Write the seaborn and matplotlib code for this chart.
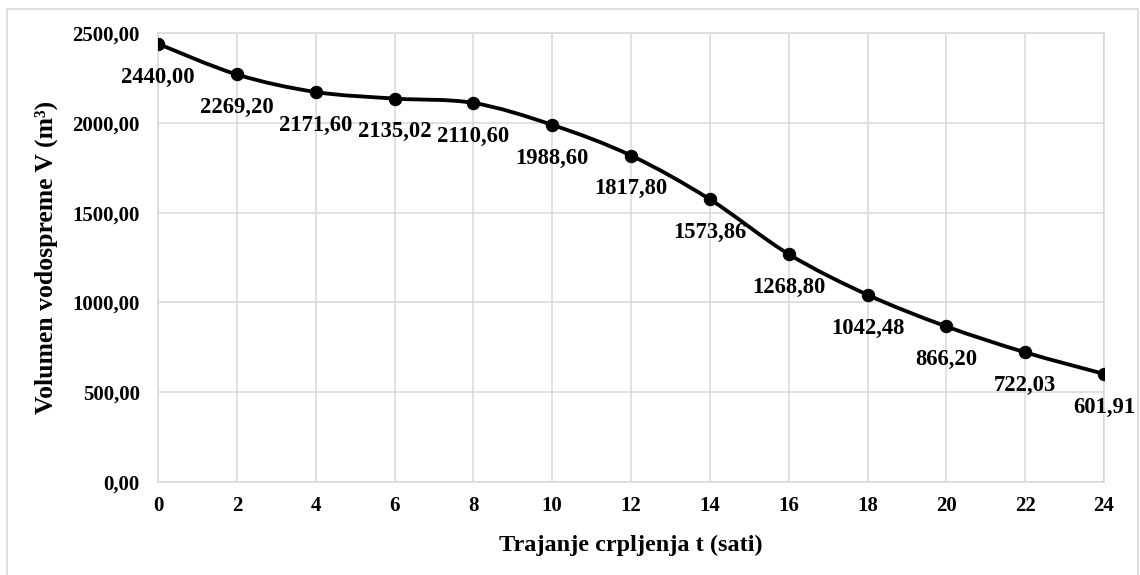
import numpy as np
import pandas as pd
import matplotlib
matplotlib.use("Agg")
import matplotlib.pyplot as plt
import seaborn as sns
from matplotlib.path import Path
from matplotlib.patches import PathPatch, Rectangle

# Data
hours = [0, 2, 4, 6, 8, 10, 12, 14, 16, 18, 20, 22, 24]
volume = [2440.00, 2269.20, 2171.60, 2135.02, 2110.60, 1988.60, 1817.80,
          1573.86, 1268.80, 1042.48, 866.20, 722.03, 601.91]
x_ticks = list(range(0, 25, 2))
y_ticks = [0, 500, 1000, 1500, 2000, 2500]

sns.set_theme(style="white")
plt.rcParams['font.family'] = ['Liberation Serif', 'DejaVu Serif']
plt.rcParams['font.weight'] = 'bold'

df = pd.DataFrame({"t": hours, "V": volume})

fig = plt.figure(figsize=(11.4, 5.75), dpi=100)
ax = fig.add_axes([158/1140, 93/575, (1104-158)/1140, (542-93)/575])

# Smoothed line (Excel-like Catmull-Rom Bezier) built from the data
xs = np.array(hours, dtype=float)
ys = np.array(volume, dtype=float)
verts = [(xs[0], ys[0])]
codes = [Path.MOVETO]
n = len(xs)
for i in range(n - 1):
    p0 = np.array([xs[max(i-1, 0)], ys[max(i-1, 0)]])
    p1 = np.array([xs[i], ys[i]])
    p2 = np.array([xs[i+1], ys[i+1]])
    p3 = np.array([xs[min(i+2, n-1)], ys[min(i+2, n-1)]])
    c1 = p1 + (p2 - p0) / 6.0
    c2 = p2 - (p3 - p1) / 6.0
    verts += [tuple(c1), tuple(c2), tuple(p2)]
    codes += [Path.CURVE4, Path.CURVE4, Path.CURVE4]
ax.add_patch(PathPatch(Path(verts, codes), facecolor='none', edgecolor='black',
                       lw=2.75, zorder=3, capstyle='round', joinstyle='round'))

sns.scatterplot(data=df, x="t", y="V", ax=ax, color="black", s=80,
                edgecolor="black", zorder=4, legend=False)

for t, v in zip(hours, volume):
    ax.annotate(f"{v:.2f}".replace('.', ','), (t, v), xytext=(0, -24),
                textcoords='offset points', ha='center', va='center',
                fontsize=16.3, fontweight='bold', color='black', zorder=5)

ax.set_xlim(0, 24)
ax.set_ylim(0, 2500)
ax.set_xticks(x_ticks)
ax.set_xticklabels([str(t) for t in x_ticks])
ax.set_yticks(y_ticks)
ax.set_yticklabels([f"{v:.2f}".replace('.', ',') for v in y_ticks])
ax.tick_params(axis='both', length=0, labelsize=15, colors='black')
ax.tick_params(axis='x', pad=10)
ax.tick_params(axis='y', pad=13)
for lab in ax.get_xticklabels() + ax.get_yticklabels():
    lab.set_fontweight('bold')

ax.grid(True, color='#d9d9d9', lw=1.1)
ax.set_axisbelow(True)
for sp in ax.spines.values():
    sp.set_color('#d9d9d9')
    sp.set_linewidth(1.1)

ax.set_xlabel("Trajanje crpljenja t (sati)", fontsize=17.5, fontweight='bold',
              color='black')
ax.set_ylabel("Volumen vodospreme V (m³)", fontsize=18.5, fontweight='bold',
              color='black')
ax.xaxis.set_label_coords((631-158)/(1104-158), -(535-482)/449)
ax.yaxis.set_label_coords(-(158-58)/(1104-158), 0.5)

fig.patches.append(Rectangle((7/1140, -0.02), (1138-7)/1140, (575-9)/575 + 0.02,
                             transform=fig.transFigure, fill=False,
                             edgecolor='#d9d9d9', lw=1.2))

fig.savefig("out.png", dpi=100, facecolor='white')
